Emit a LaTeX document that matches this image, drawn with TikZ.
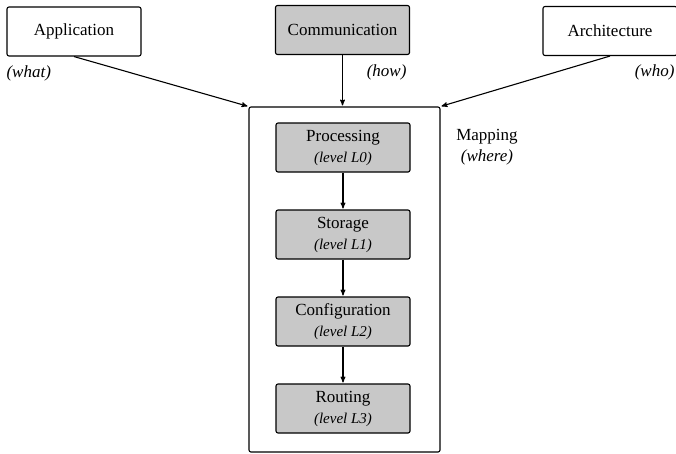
\documentclass[tikz,border=0pt]{standalone}
\usepackage{fontspec}
\setmainfont{Liberation Serif}
\usetikzlibrary{arrows,positioning}
\definecolor{boxgray}{RGB}{200,200,200}
\newcommand{\lvl}{\fontsize{15}{21}\selectfont\itshape}

\begin{document}
\begin{tikzpicture}[->,>=stealth',shorten >=1pt,x=1pt,y=1pt,
                    node distance=87pt,line width=1.1pt]
  \tikzstyle{every node}=[font=\fontsize{17}{21}\selectfont]
  \tikzstyle{block}=[draw,rounded corners=2pt,minimum width=134pt,
                     minimum height=49pt,align=center,inner sep=0pt]
  \tikzstyle{stage}=[block,fill=boxgray]
  \tikzstyle{tag}=[font=\fontsize{17}{21}\selectfont\itshape,inner sep=0pt]

  \useasboundingbox (0,0) rectangle (676,-453);

  \node[block]       (app)  at (74,-31.5)  {Application};
  \node[stage]       (comm) at (342.5,-30) {Communication};
  \node[block]       (arch) at (610,-31)   {Architecture};

  \node[tag,anchor=west] (what) at (6,-73)   {(what)};
  \node[tag,anchor=east] (how)  at (407,-72) {(how)};
  \node[tag,anchor=east] (who)  at (675,-72) {(who)};

  \node[draw,rounded corners=2pt,minimum width=191pt,
        minimum height=345pt] (mapping) at (344.5,-279.5) {};
  \node[align=center] (maplabel) at (487,-147) {Mapping\\{\itshape (where)}};

  \node[stage] (proc) at (343,-147.5) {Processing\\{\lvl (level L0)}};
  \node[stage] (stor) [below of=proc] {Storage\\{\lvl (level L1)}};
  \node[stage] (conf) [below of=stor] {Configuration\\{\lvl (level L2)}};
  \node[stage] (rout) [below of=conf] {Routing\\{\lvl (level L3)}};

  \path (app.south)  edge (mapping.north west)
        (comm.south) edge (comm.south |- mapping.north)
        (arch.south) edge (mapping.north east)
        (proc) edge (stor)
        (stor) edge (conf)
        (conf) edge (rout);
\end{tikzpicture}
\end{document}
